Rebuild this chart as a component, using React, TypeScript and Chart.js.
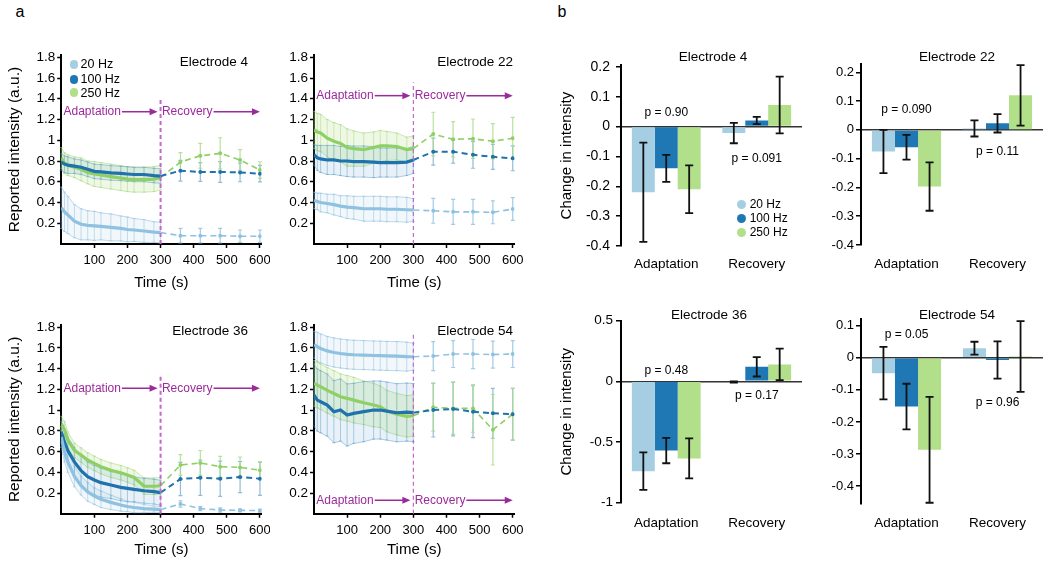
import { useEffect, useRef } from "react";
import { Chart, registerables } from "chart.js";

Chart.register(...registerables);

const FONT = "'Liberation Sans', Arial, Helvetica, sans-serif";
Chart.defaults.font.family = FONT;
Chart.defaults.color = "#000";

// ---- shared labels / ticks ----
const freqLabels = ["20 Hz", "100 Hz", "250 Hz"];
const phaseLabels = ["Adaptation", "Recovery"];
const adaptTimes = [0, 10, 20, 40, 60, 80, 100, 120, 150, 180, 200, 220, 250, 280, 300];
const recoveryTimes = [360, 420, 480, 540, 600];
const timeTicks = [100, 200, 300, 400, 500, 600];
const intensityTicks = [0.2, 0.4, 0.6, 0.8, 1, 1.2, 1.4, 1.6, 1.8];

// ---- panel a: reported intensity, rows = 20 / 100 / 250 Hz ----
const e4AdaptMean = [
	[0.35, 0.31, 0.28, 0.22, 0.19, 0.18, 0.175, 0.17, 0.16, 0.15, 0.14, 0.135, 0.125, 0.115, 0.11],
	[0.79, 0.77, 0.76, 0.75, 0.74, 0.72, 0.7, 0.695, 0.685, 0.68, 0.675, 0.67, 0.67, 0.66, 0.655],
	[0.83, 0.78, 0.76, 0.74, 0.72, 0.69, 0.675, 0.665, 0.65, 0.635, 0.625, 0.62, 0.62, 0.625, 0.64],
];
const e4AdaptErr = [
	[0.2, 0.19, 0.18, 0.16, 0.15, 0.14, 0.14, 0.13, 0.13, 0.12, 0.12, 0.11, 0.11, 0.1, 0.1],
	[0.08, 0.08, 0.08, 0.07, 0.07, 0.07, 0.07, 0.07, 0.07, 0.07, 0.07, 0.07, 0.07, 0.07, 0.07],
	[0.1, 0.1, 0.1, 0.1, 0.11, 0.11, 0.12, 0.12, 0.12, 0.12, 0.12, 0.12, 0.12, 0.12, 0.12],
];
const e4RecMean = [
	[0.08, 0.08, 0.08, 0.075, 0.075],
	[0.707, 0.694, 0.694, 0.69, 0.678],
	[0.79, 0.85, 0.874, 0.81, 0.713],
];
const e4RecErr = [
	[0.07, 0.07, 0.07, 0.06, 0.06],
	[0.1, 0.09, 0.1, 0.09, 0.08],
	[0.09, 0.12, 0.15, 0.1, 0.08],
];

const e22AdaptMean = [
	[0.42, 0.41, 0.4, 0.39, 0.38, 0.365, 0.355, 0.35, 0.34, 0.34, 0.34, 0.335, 0.335, 0.33, 0.328],
	[0.86, 0.83, 0.82, 0.81, 0.81, 0.8, 0.8, 0.795, 0.795, 0.79, 0.785, 0.785, 0.785, 0.79, 0.81],
	[1.1, 1.08, 1.07, 1.02, 0.99, 0.97, 0.93, 0.92, 0.91, 0.93, 0.945, 0.945, 0.94, 0.91, 0.92],
];
const e22AdaptErr = [
	[0.08, 0.08, 0.09, 0.09, 0.1, 0.1, 0.11, 0.11, 0.12, 0.12, 0.12, 0.12, 0.12, 0.12, 0.11],
	[0.1, 0.12, 0.13, 0.14, 0.14, 0.14, 0.15, 0.15, 0.15, 0.15, 0.14, 0.14, 0.14, 0.13, 0.13],
	[0.18, 0.18, 0.18, 0.18, 0.18, 0.18, 0.18, 0.17, 0.16, 0.15, 0.15, 0.14, 0.13, 0.12, 0.12],
];
const e22RecMean = [
	[0.32, 0.31, 0.31, 0.305, 0.337],
	[0.89, 0.89, 0.86, 0.84, 0.826],
	[1.06, 1.01, 1.015, 0.99, 1.02],
];
const e22RecErr = [
	[0.12, 0.12, 0.12, 0.11, 0.11],
	[0.13, 0.11, 0.13, 0.12, 0.12],
	[0.21, 0.17, 0.19, 0.17, 0.2],
];

const e36AdaptMean = [
	[0.74, 0.6, 0.5, 0.36, 0.27, 0.21, 0.17, 0.14, 0.11, 0.085, 0.07, 0.06, 0.05, 0.045, 0.04],
	[0.79, 0.69, 0.61, 0.5, 0.415, 0.357, 0.325, 0.3, 0.277, 0.255, 0.245, 0.235, 0.222, 0.213, 0.203],
	[0.87, 0.81, 0.71, 0.61, 0.566, 0.518, 0.486, 0.454, 0.42, 0.396, 0.373, 0.35, 0.267, 0.265, 0.27],
];
const e36AdaptErr = [
	[0.1, 0.1, 0.1, 0.1, 0.09, 0.09, 0.08, 0.08, 0.07, 0.06, 0.05, 0.05, 0.04, 0.03, 0.03],
	[0.1, 0.12, 0.13, 0.14, 0.14, 0.14, 0.14, 0.14, 0.13, 0.13, 0.13, 0.12, 0.12, 0.12, 0.12],
	[0.07, 0.08, 0.08, 0.07, 0.07, 0.07, 0.07, 0.07, 0.07, 0.07, 0.07, 0.07, 0.08, 0.08, 0.08],
];
const e36RecMean = [
	[0.094, 0.05, 0.036, 0.033, 0.03],
	[0.335, 0.348, 0.338, 0.354, 0.338],
	[0.47, 0.49, 0.454, 0.447, 0.42],
];
const e36RecErr = [
	[0.03, 0.02, 0.02, 0.015, 0.015],
	[0.16, 0.17, 0.17, 0.15, 0.16],
	[0.1, 0.12, 0.1, 0.1, 0.08],
];

const e54AdaptMean = [
	[1.63, 1.61, 1.594, 1.57, 1.555, 1.545, 1.537, 1.533, 1.53, 1.526, 1.524, 1.522, 1.52, 1.515, 1.514],
	[1.145, 1.096, 1.08, 1.048, 0.984, 1.0, 0.952, 0.968, 0.984, 1.0, 1.0, 0.99, 0.974, 0.98, 0.975],
	[1.257, 1.24, 1.225, 1.19, 1.16, 1.128, 1.113, 1.096, 1.07, 1.048, 1.032, 0.99, 0.96, 0.94, 0.945],
];
const e54AdaptErr = [
	[0.13, 0.14, 0.14, 0.14, 0.14, 0.14, 0.14, 0.14, 0.14, 0.14, 0.14, 0.14, 0.14, 0.14, 0.13],
	[0.3, 0.3, 0.3, 0.3, 0.3, 0.3, 0.3, 0.29, 0.29, 0.28, 0.28, 0.28, 0.28, 0.28, 0.28],
	[0.22, 0.22, 0.22, 0.22, 0.22, 0.22, 0.22, 0.22, 0.21, 0.21, 0.2, 0.2, 0.2, 0.2, 0.2],
];
const e54RecMean = [
	[1.52, 1.54, 1.54, 1.535, 1.54],
	[1.0, 1.01, 0.984, 0.968, 0.96],
	[1.026, 1.016, 1.016, 0.81, 0.96],
];
const e54RecErr = [
	[0.14, 0.13, 0.14, 0.13, 0.13],
	[0.26, 0.26, 0.25, 0.24, 0.25],
	[0.23, 0.25, 0.23, 0.34, 0.25],
];

// ---- panel b: change in intensity, rows = 20 / 100 / 250 Hz, cols = Adaptation / Recovery ----
const e4ChangeMean = [[-0.22, -0.022], [-0.14, 0.02], [-0.21, 0.072]];
const e4ChangeErr = [[0.166, 0.034], [0.045, 0.012], [0.08, 0.095]];
const e22ChangeMean = [[-0.075, 0.005], [-0.06, 0.023], [-0.197, 0.12]];
const e22ChangeErr = [[0.075, 0.028], [0.043, 0.032], [0.084, 0.105]];
const e36ChangeMean = [[-0.74, -0.005], [-0.57, 0.12], [-0.635, 0.14]];
const e36ChangeErr = [[0.155, 0.005], [0.105, 0.08], [0.165, 0.13]];
const e54ChangeMean = [[-0.048, 0.03], [-0.152, -0.007], [-0.287, 0.004]];
const e54ChangeErr = [[0.082, 0.02], [0.071, 0.058], [0.165, 0.11]];

const smallChangeTicks = [-0.4, -0.3, -0.2, -0.1, 0, 0.1, 0.2];
const e36ChangeTicks = [-1, -0.5, 0, 0.5];
const e54ChangeTicks = [-0.4, -0.3, -0.2, -0.1, 0, 0.1];

const e4PValues = ["p = 0.90", "p = 0.091"];
const e22PValues = ["p = 0.090", "p = 0.11"];
const e36PValues = ["p = 0.48", "p = 0.17"];
const e54PValues = ["p = 0.05", "p = 0.96"];

// ---- colours ----
const swatch = ["#a6cee3", "#1f78b4", "#b2df8a"];
const lineColors = ["#8fc2e0", "#1f72ab", "#8fd066"];
const bandFill = ["rgba(166,206,227,0.16)", "rgba(31,120,180,0.10)", "rgba(178,223,138,0.22)"];
const bandEdge = ["rgba(140,190,222,0.55)", "rgba(80,150,200,0.45)", "rgba(160,215,120,0.5)"];
const errColors = ["rgba(140,190,222,0.5)", "rgba(70,140,190,0.4)", "rgba(150,210,110,0.45)"];
const recErrColors = ["rgba(140,190,222,0.8)", "rgba(110,165,200,0.75)", "rgba(170,220,140,0.85)"];
const PURPLE = "#9b2a9b";
const SPLIT = "#c566cc";

type Box = { left: number; top: number; width: number; height: number };
type Area = { left: number; top: number; right: number; bottom: number };

type LinePanel = {
	title: string;
	adaptMean: number[][];
	adaptErr: number[][];
	recMean: number[][];
	recErr: number[][];
	box: Box;
	area: Area;
	yTitle: boolean;
	arrowY: number;
	splitTop: number;
	splitWidth: number;
	titleEnd: [number, number];
};

type BarPanel = {
	title: string;
	means: number[][];
	errs: number[][];
	ticks: number[];
	min: number;
	max: number;
	pValues: string[];
	pAt: number[];
	box: Box;
	area: Area;
	yTitle: boolean;
	titleAt: [number, number];
	tickPad: number;
	yTickSize: number;
	yTickPad: number;
};

const linePanels: LinePanel[] = [
	{
		title: "Electrode 4",
		adaptMean: e4AdaptMean,
		adaptErr: e4AdaptErr,
		recMean: e4RecMean,
		recErr: e4RecErr,
		box: { left: 0, top: 40, width: 270, height: 252 },
		area: { left: 61.2, top: 55.2, right: 261.6, bottom: 244 },
		yTitle: true,
		arrowY: 1.275,
		splitTop: 1.41,
		splitWidth: 2,
		titleEnd: [248, 62],
	},
	{
		title: "Electrode 22",
		adaptMean: e22AdaptMean,
		adaptErr: e22AdaptErr,
		recMean: e22RecMean,
		recErr: e22RecErr,
		box: { left: 270, top: 40, width: 255, height: 252 },
		area: { left: 314, top: 55.2, right: 514.4, bottom: 244 },
		yTitle: false,
		arrowY: 1.43,
		splitTop: 1.56,
		splitWidth: 1.2,
		titleEnd: [513, 62],
	},
	{
		title: "Electrode 36",
		adaptMean: e36AdaptMean,
		adaptErr: e36AdaptErr,
		recMean: e36RecMean,
		recErr: e36RecErr,
		box: { left: 0, top: 310, width: 270, height: 249 },
		area: { left: 61.2, top: 325, right: 261.6, bottom: 513.75 },
		yTitle: true,
		arrowY: 1.21,
		splitTop: 1.35,
		splitWidth: 2,
		titleEnd: [248, 331],
	},
	{
		title: "Electrode 54",
		adaptMean: e54AdaptMean,
		adaptErr: e54AdaptErr,
		recMean: e54RecMean,
		recErr: e54RecErr,
		box: { left: 270, top: 310, width: 255, height: 249 },
		area: { left: 314, top: 325, right: 514.4, bottom: 513.75 },
		yTitle: false,
		arrowY: 0.13,
		splitTop: 1.755,
		splitWidth: 1.2,
		titleEnd: [513, 331],
	},
];

const barPanels: BarPanel[] = [
	{
		title: "Electrode 4",
		means: e4ChangeMean,
		errs: e4ChangeErr,
		ticks: smallChangeTicks,
		min: -0.4,
		max: 0.205,
		pValues: e4PValues,
		pAt: [0.045, -0.109],
		box: { left: 552, top: 45, width: 254, height: 235 },
		area: { left: 621, top: 65.3, right: 802, bottom: 246 },
		yTitle: true,
		titleAt: [713, 57],
		tickPad: 2,
		yTickSize: 14,
		yTickPad: 6,
	},
	{
		title: "Electrode 22",
		means: e22ChangeMean,
		errs: e22ChangeErr,
		ticks: smallChangeTicks,
		min: -0.4,
		max: 0.23,
		pValues: e22PValues,
		pAt: [0.069, -0.077],
		box: { left: 806, top: 45, width: 242, height: 235 },
		area: { left: 861, top: 63.7, right: 1043, bottom: 245 },
		yTitle: false,
		titleAt: [957, 57],
		tickPad: 3,
		yTickSize: 13,
		yTickPad: 2,
	},
	{
		title: "Electrode 36",
		means: e36ChangeMean,
		errs: e36ChangeErr,
		ticks: e36ChangeTicks,
		min: -1,
		max: 0.5,
		pValues: e36PValues,
		pAt: [0.085, -0.12],
		box: { left: 552, top: 300, width: 254, height: 240 },
		area: { left: 621, top: 320.7, right: 802, bottom: 502.7 },
		yTitle: true,
		titleAt: [709, 315],
		tickPad: 4,
		yTickSize: 13.5,
		yTickPad: 3,
	},
	{
		title: "Electrode 54",
		means: e54ChangeMean,
		errs: e54ChangeErr,
		ticks: e54ChangeTicks,
		min: -0.455,
		max: 0.12,
		pValues: e54PValues,
		pAt: [0.071, -0.141],
		box: { left: 806, top: 300, width: 242, height: 240 },
		area: { left: 861, top: 319.3, right: 1043, bottom: 503.7 },
		yTitle: false,
		titleAt: [957, 315],
		tickPad: 3,
		yTickSize: 13,
		yTickPad: 2,
	},
];

const fmt = (v: number | string) => String(Math.round(Number(v) * 100) / 100);

// pin the plot area: drop the label overhang padding Chart.js adds on each axis
const pinX = (height: number) => (s: any) => {
	s.height = height;
	s.paddingLeft = 0;
	s.paddingRight = 0;
};
const pinY = (width: number) => (s: any) => {
	s.width = width;
	s.paddingTop = 0;
	s.paddingBottom = 0;
};

function drawArrow(ctx: CanvasRenderingContext2D, label: string, x0: number, x1: number, y: number) {
	ctx.fillText(label, x0, y);
	const w = ctx.measureText(label).width;
	ctx.beginPath();
	ctx.moveTo(x0 + w + 1, y);
	ctx.lineTo(x1 - 6, y);
	ctx.stroke();
	ctx.beginPath();
	ctx.moveTo(x1, y);
	ctx.lineTo(x1 - 8, y - 3.5);
	ctx.lineTo(x1 - 8, y + 3.5);
	ctx.closePath();
	ctx.fill();
}

function IntensityChart({ panel }: { panel: LinePanel }) {
	const canvasRef = useRef<HTMLCanvasElement>(null);

	useEffect(() => {
		if (!canvasRef.current) return;
		const { box, area } = panel;
		const last = adaptTimes.length - 1;

		const datasets: any[] = [];
		// mean lines first so they end up on top
		for (let i = 0; i < 3; i++) {
			datasets.push({
				label: freqLabels[i],
				data: adaptTimes.map((t, j) => ({ x: t, y: panel.adaptMean[i][j] })),
				borderColor: lineColors[i],
				borderWidth: 3.2,
				pointRadius: 0,
				fill: false,
				order: 1,
				errs: panel.adaptErr[i],
				errColor: errColors[i],
				errWidth: 1,
				cap: 1.5,
			});
		}
		for (let i = 0; i < 3; i++) {
			datasets.push({
				label: freqLabels[i] + " recovery",
				data: [
					{ x: 300, y: panel.adaptMean[i][last] },
					...recoveryTimes.map((t, j) => ({ x: t, y: panel.recMean[i][j] })),
				],
				borderColor: lineColors[i],
				borderWidth: i === 1 ? 2 : 1.6,
				borderDash: [6, 4],
				pointRadius: [0, 2, 2, 2, 2, 2],
				pointBackgroundColor: lineColors[i],
				pointBorderWidth: 0,
				fill: false,
				order: 2,
				errs: [0, ...panel.recErr[i]],
				errColor: recErrColors[i],
				errWidth: 1.2,
				cap: 2,
			});
		}
		for (let i = 0; i < 3; i++) {
			datasets.push({
				label: freqLabels[i] + " upper",
				data: adaptTimes.map((t, j) => ({ x: t, y: panel.adaptMean[i][j] + panel.adaptErr[i][j] })),
				borderColor: bandEdge[i],
				borderWidth: 1,
				pointRadius: 0,
				fill: false,
				order: 10,
			});
			datasets.push({
				label: freqLabels[i] + " lower",
				data: adaptTimes.map((t, j) => ({ x: t, y: panel.adaptMean[i][j] - panel.adaptErr[i][j] })),
				borderColor: bandEdge[i],
				borderWidth: 1,
				pointRadius: 0,
				backgroundColor: bandFill[i],
				fill: "-1",
				order: 10,
			});
		}

		const decor = {
			id: "intensityDecor",
			beforeDatasetsDraw(chart: any) {
				const ctx = chart.ctx;
				const ys = chart.scales.y;
				ctx.save();
				chart.data.datasets.forEach((ds: any, i: number) => {
					if (!ds.errs) return;
					const meta = chart.getDatasetMeta(i);
					ctx.strokeStyle = ds.errColor;
					ctx.lineWidth = ds.errWidth;
					meta.data.forEach((pt: any, j: number) => {
						const e = ds.errs[j];
						if (!e) return;
						const v = ds.data[j].y;
						const t = ys.getPixelForValue(v + e);
						const b = ys.getPixelForValue(v - e);
						ctx.beginPath();
						ctx.moveTo(pt.x, t);
						ctx.lineTo(pt.x, b);
						ctx.moveTo(pt.x - ds.cap, t);
						ctx.lineTo(pt.x + ds.cap, t);
						ctx.moveTo(pt.x - ds.cap, b);
						ctx.lineTo(pt.x + ds.cap, b);
						ctx.stroke();
					});
				});
				ctx.restore();
			},
			afterDatasetsDraw(chart: any) {
				const ctx = chart.ctx;
				const xs = chart.scales.x;
				const ys = chart.scales.y;
				ctx.save();
				// phase boundary
				ctx.strokeStyle = SPLIT;
				ctx.lineWidth = panel.splitWidth;
				ctx.setLineDash([4, 3]);
				ctx.beginPath();
				ctx.moveTo(xs.getPixelForValue(300), chart.chartArea.bottom);
				ctx.lineTo(xs.getPixelForValue(300), ys.getPixelForValue(panel.splitTop));
				ctx.stroke();
				ctx.setLineDash([]);
				// phase arrows
				ctx.fillStyle = PURPLE;
				ctx.strokeStyle = PURPLE;
				ctx.lineWidth = 1.5;
				ctx.font = `12px ${FONT}`;
				ctx.textBaseline = "middle";
				ctx.textAlign = "left";
				const y = ys.getPixelForValue(panel.arrowY);
				drawArrow(ctx, phaseLabels[0], xs.getPixelForValue(7), xs.getPixelForValue(291), y);
				drawArrow(ctx, phaseLabels[1], xs.getPixelForValue(304), xs.getPixelForValue(600), y);
				ctx.restore();
			},
		};

		const chart = new Chart(canvasRef.current, {
			type: "line",
			data: { datasets },
			options: {
				responsive: true,
				maintainAspectRatio: false,
				animation: false,
				events: [],
				layout: {
					padding: {
						left: 0,
						bottom: 0,
						top: area.top - box.top,
						right: box.left + box.width - area.right,
					},
				},
				plugins: {
					legend: { display: false },
					tooltip: { enabled: false },
				},
				scales: {
					x: {
						type: "linear",
						min: 0,
						max: 605,
						afterBuildTicks: (s: any) => {
							s.ticks = timeTicks.map((v) => ({ value: v }));
						},
						afterFit: pinX(box.top + box.height - area.bottom),
						border: { display: true, color: "#000", width: 2 },
						grid: {
							display: true,
							drawOnChartArea: false,
							drawTicks: true,
							tickLength: 4,
							tickColor: "#000",
							tickWidth: 1.5,
						},
						ticks: {
							font: { size: 13 },
							padding: 5,
							maxRotation: 0,
							autoSkip: false,
							callback: (v: any) => fmt(v),
						},
						title: {
							display: true,
							text: "Time (s)",
							font: { size: 15 },
							padding: { top: 0, bottom: 0 },
						},
					},
					y: {
						type: "linear",
						min: 0,
						max: 1.82,
						afterBuildTicks: (s: any) => {
							s.ticks = intensityTicks.map((v) => ({ value: v }));
						},
						afterFit: pinY(area.left - box.left),
						border: { display: true, color: "#000", width: 2 },
						grid: {
							display: true,
							drawOnChartArea: false,
							drawTicks: true,
							tickLength: 4,
							tickColor: "#000",
							tickWidth: 1.5,
						},
						ticks: {
							font: { size: 13.5 },
							padding: 2,
							autoSkip: false,
							callback: (v: any) => fmt(v),
						},
						title: {
							display: panel.yTitle,
							text: "Reported intensity (a.u.)",
							font: { size: 15.5 },
							padding: { top: 5.7, bottom: 0 },
						},
					},
				},
			},
			plugins: [decor],
		} as any);

		return () => chart.destroy();
	}, [panel]);

	const { box } = panel;
	return (
		<div style={{ position: "absolute", left: box.left, top: box.top, width: box.width, height: box.height }}>
			<canvas ref={canvasRef}></canvas>
		</div>
	);
}

function ChangeChart({ panel }: { panel: BarPanel }) {
	const canvasRef = useRef<HTMLCanvasElement>(null);

	useEffect(() => {
		if (!canvasRef.current) return;
		const { box, area } = panel;

		const decor = {
			id: "changeDecor",
			afterDatasetsDraw(chart: any) {
				const ctx = chart.ctx;
				const xs = chart.scales.x;
				const ys = chart.scales.y;
				ctx.save();
				ctx.strokeStyle = "#111";
				ctx.lineWidth = 1.8;
				chart.data.datasets.forEach((ds: any, i: number) => {
					const meta = chart.getDatasetMeta(i);
					meta.data.forEach((bar: any, j: number) => {
						const v = ds.data[j];
						const e = ds.errs[j];
						const t = ys.getPixelForValue(v + e);
						const b = ys.getPixelForValue(v - e);
						ctx.beginPath();
						ctx.moveTo(bar.x, t);
						ctx.lineTo(bar.x, b);
						ctx.moveTo(bar.x - 4, t);
						ctx.lineTo(bar.x + 4, t);
						ctx.moveTo(bar.x - 4, b);
						ctx.lineTo(bar.x + 4, b);
						ctx.stroke();
					});
				});
				ctx.fillStyle = "#000";
				ctx.font = `12px ${FONT}`;
				ctx.textAlign = "center";
				ctx.textBaseline = "middle";
				panel.pValues.forEach((txt, k) => {
					ctx.fillText(txt, xs.getPixelForValue(k), ys.getPixelForValue(panel.pAt[k]));
				});
				ctx.restore();
			},
		};

		const chart = new Chart(canvasRef.current, {
			type: "bar",
			data: {
				labels: phaseLabels,
				datasets: freqLabels.map((label, i) => ({
					label,
					data: panel.means[i],
					errs: panel.errs[i],
					backgroundColor: swatch[i],
					borderWidth: 0,
					barPercentage: 1,
					categoryPercentage: 0.76,
				})),
			},
			options: {
				responsive: true,
				maintainAspectRatio: false,
				animation: false,
				events: [],
				layout: {
					padding: {
						left: 0,
						bottom: 0,
						top: area.top - box.top,
						right: box.left + box.width - area.right,
					},
				},
				plugins: {
					legend: { display: false },
					tooltip: { enabled: false },
				},
				scales: {
					x: {
						afterFit: pinX(box.top + box.height - area.bottom),
						border: { display: false },
						grid: { display: false },
						ticks: { font: { size: 13.5 }, padding: panel.tickPad, maxRotation: 0 },
					},
					y: {
						min: panel.min,
						max: panel.max,
						afterBuildTicks: (s: any) => {
							s.ticks = panel.ticks.map((v) => ({ value: v }));
						},
						afterFit: pinY(area.left - box.left),
						border: { display: true, color: "#000", width: 2 },
						grid: {
							display: true,
							drawOnChartArea: true,
							drawTicks: true,
							tickLength: 5,
							tickColor: "#000",
							tickWidth: 1.5,
							lineWidth: 1.5,
							color: (c: any) => (c.tick && c.tick.value === 0 ? "#333" : "rgba(0,0,0,0)"),
						},
						ticks: {
							font: { size: panel.yTickSize },
							padding: panel.yTickPad,
							autoSkip: false,
							callback: (v: any) => fmt(v),
						},
						title: {
							display: panel.yTitle,
							text: "Change in intensity",
							font: { size: 15 },
							padding: { top: 5.7, bottom: 0 },
						},
					},
				},
			},
			plugins: [decor],
		} as any);

		return () => chart.destroy();
	}, [panel]);

	const { box } = panel;
	return (
		<div style={{ position: "absolute", left: box.left, top: box.top, width: box.width, height: box.height }}>
			<canvas ref={canvasRef}></canvas>
		</div>
	);
}

function Text({
	children,
	x,
	y,
	size,
	anchor = "center",
}: {
	children: string;
	x: number;
	y: number;
	size: number;
	anchor?: "left" | "center" | "right";
}) {
	const tx = anchor === "left" ? "0" : anchor === "center" ? "-50%" : "-100%";
	return (
		<div
			style={{
				position: "absolute",
				left: x,
				top: y,
				transform: `translate(${tx}, -50%)`,
				fontSize: size,
				lineHeight: 1,
				whiteSpace: "nowrap",
				color: "#000",
				pointerEvents: "none",
			}}
		>
			{children}
		</div>
	);
}

function Legend({ x, ys, r, gap, size }: { x: number; ys: number[]; r: number; gap: number; size: number }) {
	return (
		<>
			{freqLabels.map((label, i) => (
				<div key={label}>
					<div
						style={{
							position: "absolute",
							left: x - r,
							top: ys[i] - r,
							width: r * 2,
							height: r * 2,
							borderRadius: "50%",
							background: swatch[i],
						}}
					></div>
					<Text x={x + gap} y={ys[i]} size={size} anchor="left">
						{label}
					</Text>
				</div>
			))}
		</>
	);
}

export default function App() {
	return (
		<div
			style={{
				position: "absolute",
				left: 0,
				top: 0,
				width: 1050,
				height: 562,
				overflow: "hidden",
				background: "#fff",
				fontFamily: FONT,
			}}
		>
			{linePanels.map((p) => (
				<IntensityChart key={p.title} panel={p} />
			))}
			{barPanels.map((p) => (
				<ChangeChart key={p.title} panel={p} />
			))}

			<Text x={20} y={12} size={16}>
				a
			</Text>
			<Text x={562} y={12} size={16}>
				b
			</Text>

			{linePanels.map((p) => (
				<Text key={p.title} x={p.titleEnd[0]} y={p.titleEnd[1]} size={13.5} anchor="right">
					{p.title}
				</Text>
			))}
			{barPanels.map((p) => (
				<Text key={p.title} x={p.titleAt[0]} y={p.titleAt[1]} size={13.5}>
					{p.title}
				</Text>
			))}

			<Legend x={74} ys={[64.3, 79.3, 92.7]} r={4.3} gap={6.5} size={12.5} />
			<Legend x={741.7} ys={[204, 218.3, 232.3]} r={4.5} gap={8} size={12} />
		</div>
	);
}
